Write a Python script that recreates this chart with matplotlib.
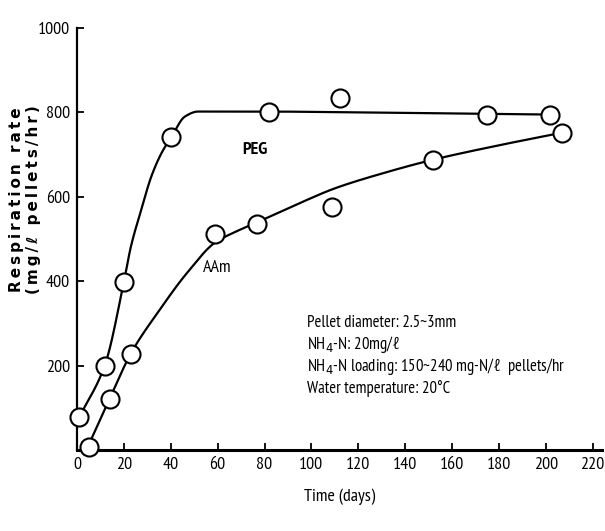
import numpy as np
import matplotlib
matplotlib.use("Agg")
import matplotlib.pyplot as plt

# Measured points
peg_days = [1, 12, 20, 40, 82, 112, 175, 202]
peg_rate = [78, 200, 398, 742, 800, 835, 795, 795]
aam_days = [5, 14, 23, 59, 77, 109, 152, 207]
aam_rate = [8, 122, 228, 512, 535, 575, 688, 752]

# Hand-drawn trend curves
peg_curve_x = [1, 12, 20, 23, 27.4, 31.7, 36, 40.5, 46, 51.6, 80, 120, 200]
peg_curve_y = [78, 203, 398, 482, 569, 648, 703, 744, 790, 802, 802, 800, 795]
aam_curve_x = [4, 14, 23, 35, 47, 59, 68, 77, 95, 110, 130, 152, 180, 207]
aam_curve_y = [0, 122, 229, 330, 420, 492, 518, 540, 585, 620, 655, 688, 722, 752]

x_ticks = [0, 20, 40, 60, 80, 100, 120, 140, 160, 180, 200, 220]
y_ticks = [200, 400, 600, 800, 1000]

notes = ["Pellet diameter: 2.5~3mm",
         "NH$_4$-N: 20mg/ℓ",
         "NH$_4$-N loading: 150~240 mg-N/ℓ  pellets/hr",
         "Water temperature: 20°C"]


def pchip(xs, ys, n=600):
    x = np.asarray(xs, float); y = np.asarray(ys, float)
    h = np.diff(x); d = np.diff(y) / h
    m = np.zeros_like(y)
    for k in range(1, len(x) - 1):
        if d[k-1] * d[k] > 0:
            w1 = 2*h[k] + h[k-1]; w2 = h[k] + 2*h[k-1]
            m[k] = (w1 + w2) / (w1/d[k-1] + w2/d[k])
    m[0] = d[0]; m[-1] = d[-1]
    xx = np.linspace(x[0], x[-1], n)
    idx = np.clip(np.searchsorted(x, xx) - 1, 0, len(h) - 1)
    t = (xx - x[idx]) / h[idx]
    h00 = 2*t**3 - 3*t**2 + 1; h10 = t**3 - 2*t**2 + t
    h01 = -2*t**3 + 3*t**2; h11 = t**3 - t**2
    yy = h00*y[idx] + h10*h[idx]*m[idx] + h01*y[idx+1] + h11*h[idx]*m[idx+1]
    return xx, yy


narrow = ["PT Sans Narrow", "DejaVu Sans"]

fig = plt.figure(figsize=(6.05, 5.31), dpi=100)
ax = fig.add_axes([77/605, 81/531, 525/605, 422/531])

for cx, cy in ((peg_curve_x, peg_curve_y), (aam_curve_x, aam_curve_y)):
    sx, sy = pchip(cx, cy)
    ax.plot(sx, sy, color="black", lw=1.6, zorder=2)

for dx, dy in ((peg_days, peg_rate), (aam_days, aam_rate)):
    ax.plot(dx, dy, "o", ms=13, mfc="white", mec="black", mew=1.5, zorder=3, clip_on=False)

ax.set_xlim(0, 224)
ax.set_ylim(0, 1000)
ax.set_xticks(x_ticks)
ax.set_yticks(y_ticks)
ax.tick_params(direction="in", length=5, width=1.3, labelsize=13, pad=5)
for lab in ax.get_xticklabels() + ax.get_yticklabels():
    lab.set_family(narrow)
ax.spines["top"].set_visible(False)
ax.spines["right"].set_visible(False)
ax.spines["left"].set_linewidth(1.6)
ax.spines["bottom"].set_linewidth(2.2)

ax.text(76, 711, "PEG", ha="center", va="center", fontsize=13, family=narrow, fontweight="bold")
ax.text(60, 431, "AAm", ha="center", va="center", fontsize=13, family=narrow)

for i, line in enumerate(notes):
    ax.text(98, 301 - i*52, line, ha="left", va="center", fontsize=12, family=narrow)

fig.text(340/605, 1 - 497/531, "Time (days)", ha="center", va="center", fontsize=13, family=narrow)

ts = "\u2009"
ylab1 = ts.join("Respiration rate")
ylab2 = ts.join("(mg/ℓ pellets/hr)")
fig.text(25/605, 1 - 200/531, ylab1 + "\n" + ylab2, ha="center", va="center",
         rotation=90, fontsize=11, fontweight="bold", linespacing=1.15)

fig.savefig("out.png", dpi=100)
